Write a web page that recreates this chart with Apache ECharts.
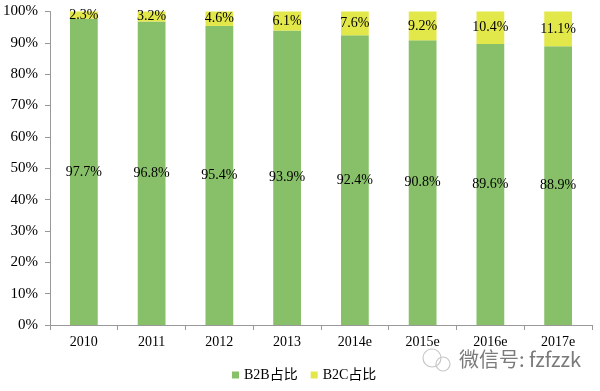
<!DOCTYPE html>
<html><head><meta charset="utf-8">
<script src="https://cdn.jsdelivr.net/npm/echarts@6/dist/echarts.min.js"></script>
<style>html,body{margin:0;padding:0;background:#fff}#c{width:600px;height:391px}</style>
</head><body><div id="c"></div>
<script>
const categories = ['2010','2011','2012','2013','2014e','2015e','2016e','2017e'];
const b2b = [97.7, 96.8, 95.4, 93.9, 92.4, 90.8, 89.6, 88.9];
const b2c = [2.3, 3.2, 4.6, 6.1, 7.6, 9.2, 10.4, 11.1];
const yTicks = [0,10,20,30,40,50,60,70,80,90,100];
const serif = '"Liberation Serif", "Times New Roman", "Noto Sans CJK SC", serif';
const chart = echarts.init(document.getElementById('c'));
chart.setOption({
  animation: false,
  backgroundColor: '#fff',
  grid: {left: 48, right: 8, top: 11.5, bottom: 66, containLabel: false},
  legend: {
    bottom: 4, left: 227, itemWidth: 7, itemHeight: 7, itemGap: 13,
    icon: 'rect',
    textStyle: {fontFamily: serif, fontSize: 14, color: '#000'},
    data: ['B2B占比','B2C占比']
  },
  xAxis: {
    type: 'category', data: categories,
    axisLine: {lineStyle: {color: '#999', width: 1}},
    axisTick: {show: true, alignWithLabel: false, length: 5, lineStyle: {color: '#999'}},
    axisLabel: {fontFamily: serif, fontSize: 14, color: '#000', margin: 10}
  },
  yAxis: {
    type: 'value', min: yTicks[0], max: yTicks[yTicks.length-1], interval: 10,
    splitLine: {show: false},
    axisLine: {show: true, lineStyle: {color: '#999', width: 1}},
    axisTick: {show: true, length: 5, lineStyle: {color: '#999'}},
    axisLabel: {fontFamily: serif, fontSize: 15, color: '#000', margin: 12, formatter: '{value}%'}
  },
  series: [
    {name: 'B2B占比', type: 'bar', stack: 's', data: b2b, barWidth: '41%',
     itemStyle: {color: '#88c06a'},
     label: {show: true, position: 'inside', fontFamily: serif, fontSize: 14, color: '#000', formatter: p => p.value.toFixed(1) + '%'}},
    {name: 'B2C占比', type: 'bar', stack: 's', data: b2c, barWidth: '41%',
     itemStyle: {color: '#e3e84a'},
     label: {show: true, position: 'inside', fontFamily: serif, fontSize: 14, color: '#000', formatter: p => p.value.toFixed(1) + '%'}}
  ],
  graphic: [
    {type: 'text', left: 459, top: 349, style: {text: '微信号: fzfzzk', fontFamily: '"Noto Sans CJK SC", sans-serif', fontSize: 20, fill: '#7a7a7a'}},
    {type: 'circle', shape: {cx: 432, cy: 358, r: 9}, style: {fill: 'none', stroke: '#c8c8c8', lineWidth: 1.2}},
    {type: 'circle', shape: {cx: 443, cy: 364, r: 7}, style: {fill: 'none', stroke: '#c8c8c8', lineWidth: 1.2}}
  ]
});
</script></body></html>
